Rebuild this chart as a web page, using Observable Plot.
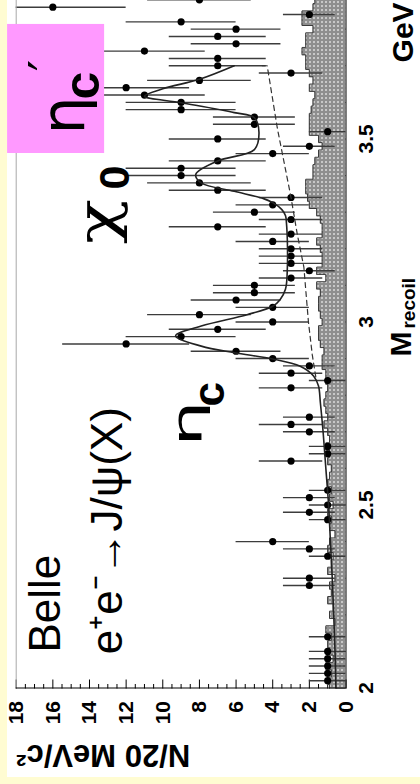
<!DOCTYPE html>
<html>
<head>
<meta charset="utf-8">
<style>
html,body{margin:0;padding:0;width:420px;height:784px;overflow:hidden;background:#fffcd2;}
#rot{position:absolute;left:0;top:0;width:784px;height:420px;transform-origin:0 0;transform:translateY(784px) rotate(-90deg);overflow:hidden;}
#paper{position:absolute;left:7px;top:7px;right:0;bottom:0;background:#ffffff;}
#rot svg{position:absolute;left:0;top:0;}
</style>
<script src="https://cdn.jsdelivr.net/npm/d3@7"></script>
<script src="https://cdn.jsdelivr.net/npm/@observablehq/plot@0.6"></script>
</head>
<body>
<div id="rot"><div id="paper"></div></div>
<script>
// ---- data (bins of 20 MeV starting at 2.00 GeV) ----
const binStart = 2.00;
const binWidth = 0.02;
// observed events per bin
const counts = [0,1,1,1,1,1,0,1,0,0,0,0,0,0,2,2,0,0,1,2,4,0,0,1,2,1,2,1,0,0,0,3,1,1,0,2,3,2,0,0,0,3,1,3,2,4,6,12,9,7,4,8,4,6,5,5,3,2,3,3,3,4,3,7,3,5,4,3,7,8,9,9,7,4,2,7,1,5,5,9,9,11,12,8,3,7,7,11,6,7,6,9,2,16,8];
// J/psi sideband background histogram
const sideband = [0.9,1.0,0.8,1.1,0.7,0.9,1.0,0.8,1.1,0.6,0.9,0.7,1.0,0.8,0.9,0.6,1.0,0.8,0.7,1.0,0.9,0.6,0.9,0.8,1.0,0.7,0.9,0.8,1.0,0.9,0.8,1.0,0.9,1.1,0.9,1.0,1.2,1.0,1.1,1.2,1.1,1.0,1.1,1.1,1.3,1.3,1.2,1.4,1.5,1.5,1.3,1.4,1.5,1.5,1.4,1.6,1.1,1.6,1.3,1.3,1.4,1.6,1.3,1.3,1.4,1.6,2.0,2.1,2.2,2.2,1.8,1.8,1.7,1.5,1.3,1.5,2.0,2.0,2.0,1.9,1.8,1.7,2.0,1.8,2.0,2.2,2.2,2.4,2.2,2.2,1.8,2.4,2.4,1.8,1.7];
// fit curve
const fitM = [2.00,2.10,2.20,2.30,2.40,2.50,2.60,2.70,2.78,2.825,2.852,2.879,2.899,2.916,2.934,2.962,2.989,3.020,3.043,3.061,3.09,3.15,3.22,3.27,3.29,3.307,3.326,3.337,3.357,3.38,3.403,3.44,3.471,3.518,3.558,3.572,3.599,3.617,3.637,3.663,3.70];
const fitN = [0.55,0.6,0.67,0.75,0.85,0.95,1.1,1.25,1.4,1.5,1.76,2.5,4.0,6.1,7.9,9.3,7.9,5.4,4.0,3.6,3.3,3.2,3.2,3.25,3.3,3.5,4.0,4.5,6.1,7.9,8.2,7.0,5.0,4.75,5.0,6.1,9.0,11.0,10.0,8.0,6.1];
// background component of the fit (dashed)
const bgM = [2.85,2.91,3.00,3.15,3.24,3.34,3.53,3.70,3.70];
const bgN = [1.65,1.84,2.05,2.3,2.66,3.0,3.75,4.3,4.66];
// axes
const xTicks = [2, 2.5, 3, 3.5];
const xMinor = [2.1,2.2,2.3,2.4,2.6,2.7,2.8,2.9,3.1,3.2,3.3,3.4,3.6,3.7,3.8];
const yTicks = [0,2,4,6,8,10,12,14,16,18];
const yMinor = [0.5,1,1.5,2.5,3,3.5,4.5,5,5.5,6.5,7,7.5,8.5,9,9.5,10.5,11,11.5,12.5,13,13.5,14.5,15,15.5,16.5,17,17.5];
const xTitle = "M";
const xTitleSub = "recoil";
const xUnit = "GeV";
const yTitle = "N/20 MeV/c²";
// annotations (anchored in data coordinates: M, N)
const notes = {
  belle: {text: "Belle", M: 2.097, N: 15.6},
  reaction: {text: "e⁺e⁻→J/ψ(X)", M: 2.092, N: 12.2},
  eta: {text: "η", M: 2.66, N: 7.94},
  etaSub: {text: "c", M: 2.769, N: 6.68},
  chi: {text: "χ", M: 3.212, N: 12.57},
  chiSub: {text: "0", M: 3.362, N: 11.87},
  etaP: {text: "η", M: 3.512, N: 14.3},
  etaPSub: {text: "c", M: 3.608, N: 13.5},
  etaPPrime: {text: "′", M: 3.685, N: 15.4},
  box: {M1: 3.463, M2: 3.8156, N1: 18.47, N2: 13.175}
};

// ---- tables ----
const points = counts.map((n, j) => ({M: binStart + binWidth * j, n})).filter(d => d.n > 0);
const hist = sideband.map((v, j) => ({x: binStart + binWidth * (j - 0.5), v}));
hist.push({x: binStart + binWidth * (sideband.length - 0.5), v: sideband[sideband.length - 1]});
const fit = fitM.map((M, i) => ({M, n: fitN[i]}));
const bg = bgM.map((M, i) => ({M, n: bgN[i]}));

const W = 784, H = 420;
const mL = 95.5, mR = 0, mT = 15.7, mB = 74.5;
const innerW = W - mL - mR, innerH = H - mT - mB;
const font = "Liberation Sans, Arial, Helvetica, sans-serif";
const greek = "DejaVu Sans, sans-serif";
const greekSerif = "DejaVu Serif, serif";
const note = (d, o) => Plot.text([d], {x: "M", y: "N", text: "text", textAnchor: "start", lineAnchor: "bottom", fontFamily: font, ...o});

const chart = Plot.plot({
  width: W, height: H,
  marginLeft: mL, marginRight: mR, marginTop: mT, marginBottom: mB,
  x: {domain: [2, 3.881]},
  y: {domain: [0, 18]},
  style: {background: "transparent", fontFamily: font, overflow: "visible"},
  marks: [
    // axis ticks (inside the frame)
    Plot.tickX(xTicks, {x: d => d, insetTop: innerH - 9, stroke: "#000", strokeWidth: 1}),
    Plot.tickX(xMinor, {x: d => d, insetTop: innerH - 4.5, stroke: "#000", strokeWidth: 1}),
    Plot.tickY(yTicks, {y: d => d, insetRight: innerW - 9, stroke: "#000", strokeWidth: 1}),
    Plot.tickY(yMinor, {y: d => d, insetRight: innerW - 4.5, stroke: "#000", strokeWidth: 1}),
    // sideband histogram
    Plot.areaY(hist, {x: "x", y: "v", curve: "step-after", fill: "url(#checker)", clip: true}),
    Plot.lineY(hist, {x: "x", y: "v", curve: "step-after", stroke: "#3a3a3a", strokeWidth: 1, clip: true}),
    // error bars and points
    Plot.ruleX(points, {x: "M", y1: d => Math.max(0, d.n - Math.sqrt(d.n)), y2: d => d.n + Math.sqrt(d.n), stroke: "#3c3c3c", strokeWidth: 1.4, clip: true}),
    Plot.dot(points, {x: "M", y: "n", r: 3.6, fill: "#000", stroke: "none"}),
    // fit curves
    Plot.line(bg, {x: "M", y: "n", stroke: "#333", strokeWidth: 1.2, strokeDasharray: "5,4"}),
    Plot.line(fit, {x: "M", y: "n", curve: "catmull-rom", stroke: "#222", strokeWidth: 1.6}),
    // frame
    Plot.ruleY([18], {stroke: "#a8a8a8", strokeWidth: 1}),
    Plot.ruleY([0], {stroke: "#000", strokeWidth: 1}),
    Plot.ruleX([2], {stroke: "#000", strokeWidth: 1}),
    // axes labels
    Plot.axisY({ticks: yTicks, tickSize: 0, tickPadding: 13, fontSize: 21, fontWeight: "bold", fontFamily: font, tickFormat: d => String(d), label: null}),
    Plot.axisX({ticks: xTicks, tickSize: 0, tickPadding: 12, fontSize: 21, fontWeight: "bold", fontFamily: font, tickFormat: d => String(d), label: null}),
    Plot.text([yTitle], {frameAnchor: "top-left", rotate: -90, textAnchor: "end", lineAnchor: "bottom", dx: -56.5, fontSize: 31, fontWeight: "bold", fontFamily: font}),
    Plot.text([xTitle], {x: 2.906, frameAnchor: "bottom", textAnchor: "start", lineAnchor: "bottom", dy: 64.5, fontSize: 30, fontWeight: "bold", fontFamily: font}),
    Plot.text([xTitleSub], {x: 2.982, frameAnchor: "bottom", textAnchor: "start", lineAnchor: "bottom", dy: 69, fontSize: 19, fontWeight: "bold", fontFamily: font}),
    Plot.text([xUnit], {x: 3.709, frameAnchor: "bottom", textAnchor: "start", lineAnchor: "bottom", dy: 66.5, fontSize: 30, fontWeight: "bold", fontFamily: font}),
    // annotations
    Plot.rect([notes.box], {x1: "M1", x2: "M2", y1: "N1", y2: "N2", fill: "#ff99ff"}),
    note(notes.belle, {fontSize: 44}),
    note(notes.reaction, {fontSize: 44}),
    note(notes.eta, {fontSize: 41, fontFamily: greek}),
    note(notes.etaSub, {fontSize: 44, fontWeight: "bold"}),
    note(notes.chi, {fontSize: 55, fontFamily: greekSerif}),
    note(notes.chiSub, {fontSize: 43, fontWeight: "bold"}),
    note(notes.etaP, {fontSize: 60, fontFamily: greek}),
    note(notes.etaPSub, {fontSize: 50, fontWeight: "bold"}),
    note(notes.etaPPrime, {fontSize: 50, fontFamily: greek})
  ]
});

// checkered fill for the sideband histogram
const svg = d3.select(chart);
const defs = svg.insert("defs", ":first-child");
const pat = defs.append("pattern").attr("id", "checker").attr("width", 4).attr("height", 4).attr("patternUnits", "userSpaceOnUse");
pat.append("rect").attr("width", 4).attr("height", 4).attr("fill", "#8e8e8e");
pat.append("circle").attr("cx", 2).attr("cy", 2).attr("r", 1.1).attr("fill", "#d6d6d6");
// some greek glyphs in the reference are drawn wider than the font gives
svg.selectAll('g[font-size="41"] text').attr("textLength", 46).attr("lengthAdjust", "spacingAndGlyphs");
svg.selectAll('g[font-size="55"] text').attr("textLength", 45).attr("lengthAdjust", "spacingAndGlyphs");

document.getElementById("rot").appendChild(chart);
</script>
</body>
</html>
